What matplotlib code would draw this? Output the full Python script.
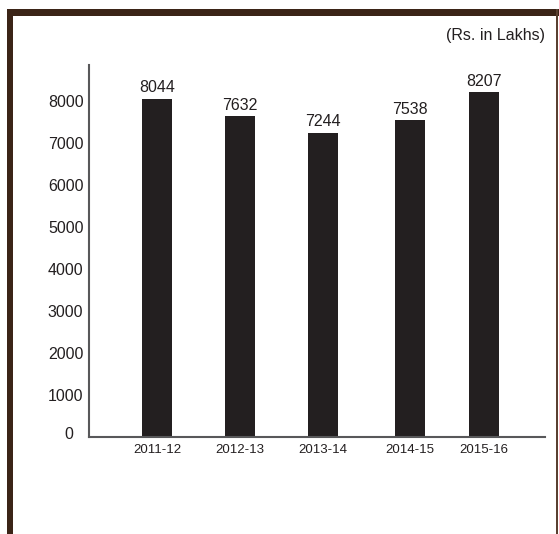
import matplotlib
matplotlib.use("Agg")
import matplotlib.pyplot as plt
from matplotlib.patches import Rectangle
from matplotlib.transforms import ScaledTranslation

plt.rcParams['font.family'] = ['Liberation Sans', 'DejaVu Sans']

years = ["2011-12", "2012-13", "2013-14", "2014-15", "2015-16"]
amounts = [8044, 7632, 7244, 7538, 8207]
y_ticks = [0, 1000, 2000, 3000, 4000, 5000, 6000, 7000, 8000]

# horizontal placement of the bars (slightly uneven spacing)
x_pos = [0, 1, 2, 3.05, 3.94]

W, H = 559, 534
fig = plt.figure(figsize=(W / 100, H / 100), dpi=100)
fig.patch.set_facecolor("white")

# brown frame: thick top and left edges, thin right edge
border = "#3b2417"
fig.patches.append(Rectangle((7 / W, 0), 6 / W, (H - 9) / H, transform=fig.transFigure,
                             facecolor=border, edgecolor="none"))
fig.patches.append(Rectangle((7 / W, (H - 15.5) / H), (W - 7) / W, 6.5 / H, transform=fig.transFigure,
                             facecolor=border, edgecolor="none"))
fig.patches.append(Rectangle((556 / W, 0), 2 / W, (H - 9) / H, transform=fig.transFigure,
                             facecolor="#5a4030", edgecolor="none"))

ax = fig.add_axes([89 / W, (H - 437) / H, (545 - 89) / W, (437 - 65) / H])
ax.bar(x_pos, amounts, width=0.36, color="#231f20")
for x, v in zip(x_pos, amounts):
    ax.text(x, v + 90, str(v), ha="center", va="bottom", fontsize=11.5, color="#231f20")

ax.set_xlim(-0.82, 4.675)
ax.set_ylim(0, 8857)
ax.set_yticks(y_ticks)
ax.set_yticklabels([str(t) for t in y_ticks], fontsize=11.5, color="#231f20")
ax.set_xticks(x_pos)
ax.set_xticklabels(years, fontsize=9.5, color="#231f20")
ax.tick_params(axis="both", length=0)
ax.tick_params(axis="y", pad=4)
ax.tick_params(axis="x", pad=5)
for s in ["top", "right"]:
    ax.spines[s].set_visible(False)
for s in ["left", "bottom"]:
    ax.spines[s].set_color("#58585a")
    ax.spines[s].set_linewidth(1.5)

# the zero label sits a little left of and above the other labels
zero_lbl = ax.get_yticklabels()[0]
zero_lbl.set_transform(zero_lbl.get_transform() + ScaledTranslation(-10 / 100, 4 / 100, fig.dpi_scale_trans))

fig.text(545 / W, 1 - 36 / H, "(Rs. in Lakhs)", ha="right", va="center", fontsize=11.5, color="#231f20")

fig.savefig("out.png", dpi=100)
